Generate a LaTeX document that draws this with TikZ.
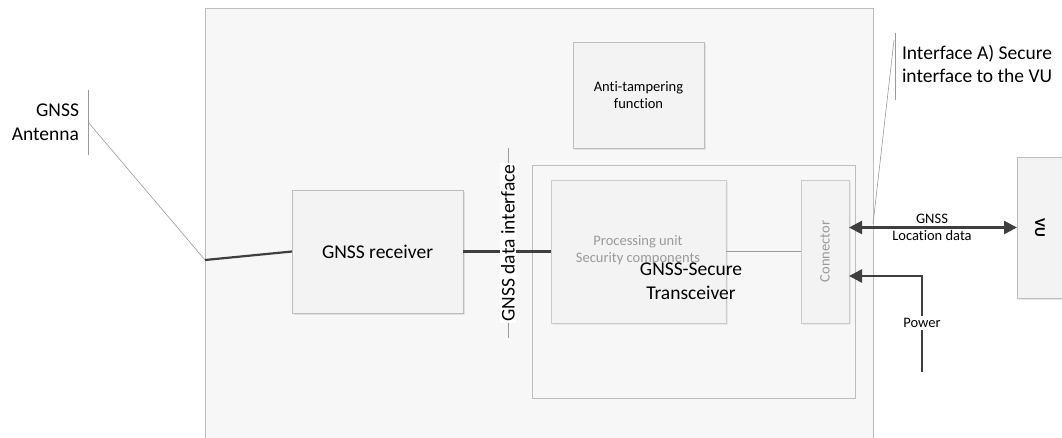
\documentclass[tikz,border=0pt]{standalone}
\usepackage{fontspec}
\setmainfont{Carlito}[Ligatures=CommonOff]
\usetikzlibrary{arrows.meta,shadows}
\definecolor{bord}{HTML}{BDBDBD}
\definecolor{dark}{HTML}{3F3F3F}
\definecolor{pale}{HTML}{F7F7F7}
\definecolor{boxfill}{HTML}{F3F3F3}
\definecolor{soft}{HTML}{9A9A9A}
\begin{document}
\begin{tikzpicture}[x=1pt,y=-1pt,
  every node/.style={inner sep=1pt, outer sep=0pt},
  bigbox/.style={draw=bord, fill=pale, line width=0.8pt},
  unitbox/.style={draw=bord, fill=boxfill, line width=0.8pt, align=center,
    drop shadow={opacity=0.18, shadow xshift=1.5pt, shadow yshift=-1.5pt}},
  ghostbox/.style={draw=bord!80, fill=boxfill, line width=0.7pt, align=center,
    drop shadow={opacity=0.12, shadow xshift=1.5pt, shadow yshift=-1.5pt}},
  bigtxt/.style={font=\fontsize{19.5}{23.5}\selectfont, align=center},
  smalltxt/.style={font=\fontsize{14.5}{17}\selectfont, align=center},
  thinline/.style={draw=soft, line width=0.6pt},
  bracket/.style={draw=soft, line width=1pt},
  heavy/.style={draw=dark, line width=2.2pt},
  darrow/.style={draw=dark, line width=2.6pt, {Triangle[length=13pt,width=13pt]}-{Triangle[length=13pt,width=13pt]}},
  sarrow/.style={draw=dark, line width=2.6pt, -{Triangle[length=13pt,width=13pt]}}
]
\useasboundingbox (0,0) rectangle (1062,437);
\fill[white] (0,0) rectangle (1062,437);
\begin{scope}
\clip (0,0) rectangle (1062,437);

% main enclosure
\node[bigbox, minimum width=668, minimum height=470] (main) at (539,243) {};

% anti-tampering
\node[unitbox, minimum width=131, minimum height=106, smalltxt] (anti) at (638.5,95) {Anti-tampering\\function};

% GNSS receiver
\node[unitbox, minimum width=171, minimum height=123, bigtxt] (rx) at (377.5,251.5) {GNSS receiver};

% transceiver
\node[bigbox, minimum width=323, minimum height=233] (trx) at (693.5,281.5) {};
\node[ghostbox, minimum width=175, minimum height=143] (pu) at (638.5,251.5) {};
\node[smalltxt, text=soft] (putxt) at (638,250) {Processing unit\\Security components};
\node[bigtxt] (trxtxt) at (691,281) {GNSS-Secure\\Transceiver};
\node[ghostbox, minimum width=48, minimum height=143] (conn) at (825,251.5) {};
\node[smalltxt, text=soft, rotate=90] (conntxt) at (825,251.5) {Connector};

% VU
\node[unitbox, minimum width=60, minimum height=141] (vu) at (1047,227.5) {};
\node[font=\fontsize{15}{17}\selectfont\bfseries, rotate=-90] (vutxt) at (1040,227.5) {VU};

% GNSS data interface
\coordinate (gdtop) at (508,148);
\coordinate (gdbot) at (508,338);
\draw[bracket] (gdtop) -- (gdbot);
\draw[heavy] (rx.east) -- (pu.west);
\node[bigtxt, fill=white, rotate=90, inner sep=1.5pt] (gdi) at (508,243) {GNSS data interface};

% processing -> connector
\draw[draw=soft, line width=1.6pt] (pu.east) -- (conn.west);

% antenna
\coordinate (antt) at (88,90);
\coordinate (antb) at (88,155);
\coordinate (antm) at (88,122);
\coordinate (antin) at (205,260);
\draw[bracket] (antt) -- (antb);
\node[bigtxt, align=right, anchor=east] (antlbl) at (80,122) {GNSS\\Antenna};
\draw[thinline] (antm) -- (antin);
\draw[heavy] (antin) -- (rx.west);

% interface A
\coordinate (ifa) at (895,33);
\coordinate (ifb) at (895,100);
\coordinate (ifm) at (894,40);
\coordinate (ifend) at (873,224);
\draw[bracket] (ifa) -- (ifb);
\node[bigtxt, align=left, anchor=west] (iflbl) at (901,64) {Interface A) Secure\\interface to the VU};
\draw[thinline] (ifm) -- (ifend);

% GNSS location data arrow
\draw[darrow] (vu.west -| conn.east) -- (vu.west);
\node[smalltxt] (loclbl) at (932,227) {GNSS\\Location data};

% power arrow
\coordinate (pwbot) at (922,372);
\coordinate (pwcorner) at (922,276);
\draw[sarrow] (pwbot) -- (pwcorner) -- (pwcorner -| conn.east);
\node[smalltxt, fill=white, inner sep=2pt] (pwlbl) at (922,323) {Power};
\end{scope}
\end{tikzpicture}
\end{document}
